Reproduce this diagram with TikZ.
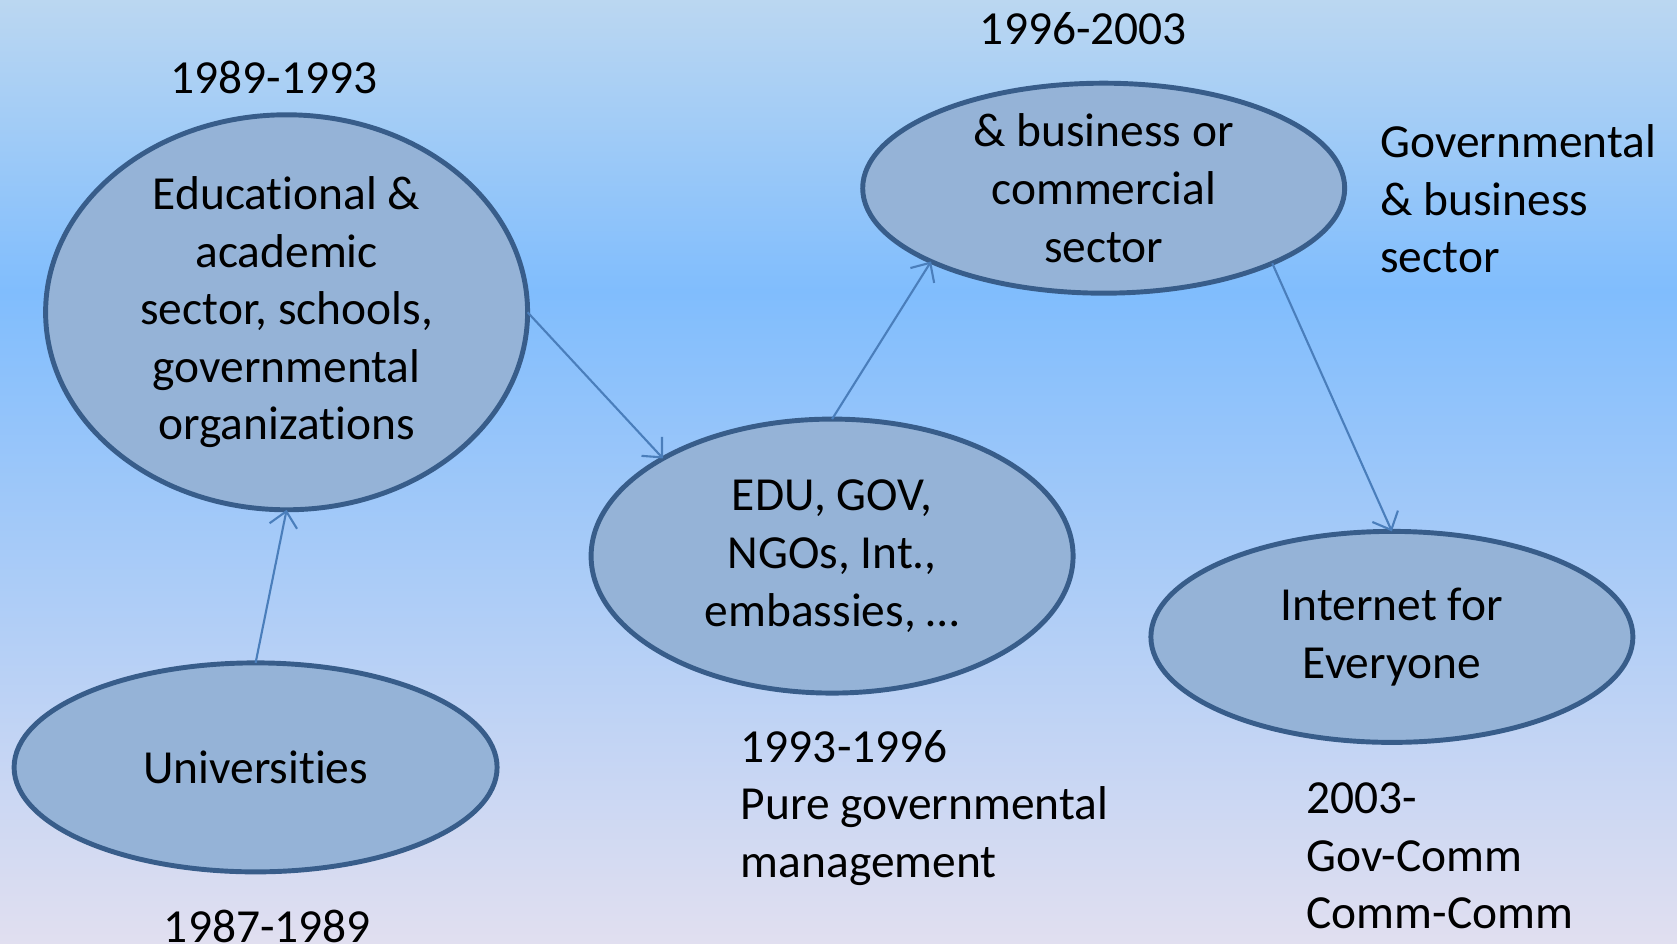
\documentclass[tikz,border=0pt]{standalone}
\usepackage{fontspec}
\setmainfont[Ligatures=NoCommon]{Carlito}
\usepackage{tikz}
\usetikzlibrary{arrows.meta,shapes.geometric}

\definecolor{bgtop}{HTML}{BBD7F1}
\definecolor{bgmid}{HTML}{80BDFD}
\definecolor{bgbot}{HTML}{E1DFF0}
\definecolor{ovalfill}{HTML}{95B3D7}
\definecolor{ovalline}{HTML}{385D8A}
\definecolor{arrowline}{HTML}{4A7EBB}

\tikzset{
  era/.style={ellipse,draw=ovalline,fill=ovalfill,line width=1.4pt,inner sep=-4mm,outer sep=0pt,align=center},
  note/.style={inner sep=0pt,align=left},
  link/.style={draw=arrowline,line width=0.6pt,-{Straight Barb[length=1.5mm,width=2.8mm]}}
}

\begin{document}
\begin{tikzpicture}[x=0.1mm,y=-0.1mm,font=\fontsize{13.5}{16.4}\selectfont]
      % background
      \useasboundingbox (0,0) rectangle (1677,944);
      \fill[top color=bgtop,bottom color=bgmid] (0,0) rectangle (1677,292);
      \fill[top color=bgmid,bottom color=bgbot] (0,290) rectangle (1677,944);

      % ovals
      \node[era,minimum width=48.2mm,minimum height=39.5mm] (edu) at (286.6,312.3)
        {Educational \&\\academic\\sector, schools,\\governmental\\organizations};
      \node[era,minimum width=48.3mm,minimum height=20.9mm] (univ) at (255.6,767.4) {Universities};
      \node[era,minimum width=48.2mm,minimum height=27.4mm] (gov) at (832.1,556.1)
        {EDU, GOV,\\NGOs, Int.,\\embassies, \ldots};
      \node[era,minimum width=48.2mm,minimum height=21mm] (biz) at (1103.7,188.2)
        {\& business or\\commercial\\sector};
      \node[era,minimum width=48.2mm,minimum height=21.1mm] (all) at (1391.9,636.9)
        {Internet for\\Everyone};

      % periods
      \node[note] (t1) at (267.4,926) {1987-1989};
      \node[note] (t2) at (273.8,77) {1989-1993};
      \node[note,anchor=west] (t3) at (740.1,808) {1993-1996\\Pure governmental\\management};
      \node[note] (t4) at (1083.4,29) {1996-2003};
      \node[note,anchor=west] (t5) at (1379.7,199) {Governmental\\\& business\\sector};
      \node[note,anchor=west] (t6) at (1305.9,856) {2003-\\Gov-Comm\\Comm-Comm};

      % arrows
      \path[link] (univ.north) -- (edu.south);
      \path[link] (edu.east) -- (gov.150);
      \path[link] (gov.north) -- (biz.203.6);
      \path[link] (biz.336.4) -- (all.north);
\end{tikzpicture}
\end{document}
